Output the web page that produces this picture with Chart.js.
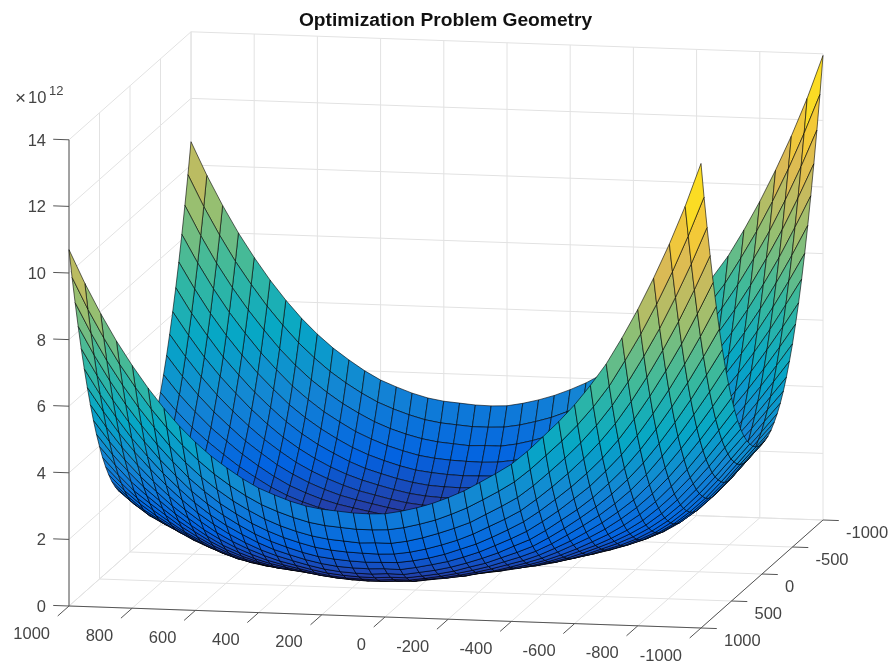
<!doctype html>
<html>
<head>
<meta charset="utf-8">
<title>Optimization Problem Geometry</title>
<script src="https://cdn.jsdelivr.net/npm/chart.js@4/dist/chart.umd.js"></script>
<style>
html, body { margin: 0; padding: 0; background: #fff; }
canvas { display: block; }
</style>
</head>
<body>
<canvas id="canvas" width="891" height="661"></canvas>
<script>
// tick labels
var xTicks = [1000, 800, 600, 400, 200, 0, -200, -400, -600, -800, -1000];
var yTicks = [1000, 500, 0, -500, -1000];
var zTicks = [0, 2, 4, 6, 8, 10, 12, 14];

// surface samples. zRows[i][j] is z (x 1e12) at gridX[i], |y| = gridY[j]
var gridX = [1000, 950, 900, 850, 800, 750, 700, 650, 600, 550, 500, 450, 400, 350, 300, 250, 200, 150, 100, 50, 0,
  -50, -100, -150, -200, -250, -300, -350, -400, -450, -500, -550, -600, -650, -700, -750, -800, -850, -900, -950, -1000];
var gridY = [0, 50, 100, 150, 200, 250, 300, 350, 400, 450, 500, 550, 600, 650, 700, 750, 800, 850, 900, 950, 1000];
var zRows = [
  [1.85,1.87,1.93,2.04,2.18,2.38,2.61,2.89,3.21,3.57,3.98,4.43,4.93,5.48,6.08,6.72,7.41,8.16,8.95,9.79,10.70],
  [1.48,1.50,1.56,1.65,1.79,1.96,2.18,2.43,2.73,3.06,3.44,3.85,4.32,4.83,5.39,5.97,6.62,7.32,8.06,8.85,9.71],
  [1.17,1.19,1.24,1.33,1.45,1.61,1.80,2.04,2.30,2.60,2.96,3.35,3.77,4.24,4.75,5.31,5.90,6.56,7.25,8.01,8.82],
  [0.95,0.97,1.01,1.09,1.20,1.34,1.51,1.71,1.96,2.24,2.55,2.89,3.28,3.71,4.19,4.69,5.26,5.87,6.53,7.24,8.01],
  [0.74,0.75,0.79,0.86,0.96,1.09,1.24,1.43,1.64,1.90,2.18,2.50,2.85,3.24,3.69,4.16,4.68,5.26,5.88,6.56,7.29],
  [0.54,0.55,0.59,0.66,0.74,0.84,0.99,1.16,1.34,1.57,1.83,2.12,2.44,2.81,3.22,3.66,4.15,4.69,5.29,5.93,6.63],
  [0.37,0.38,0.41,0.47,0.54,0.64,0.77,0.91,1.09,1.29,1.53,1.79,2.09,2.42,2.80,3.22,3.68,4.19,4.74,5.37,6.04],
  [0.22,0.23,0.25,0.31,0.37,0.46,0.57,0.70,0.85,1.04,1.25,1.49,1.76,2.08,2.42,2.81,3.24,3.72,4.26,4.86,5.51],
  [0.11,0.12,0.14,0.18,0.24,0.32,0.41,0.53,0.67,0.83,1.02,1.23,1.49,1.77,2.10,2.46,2.87,3.33,3.84,4.42,5.05],
  [0.05,0.06,0.07,0.11,0.16,0.23,0.31,0.40,0.52,0.67,0.84,1.03,1.26,1.52,1.82,2.16,2.55,2.98,3.48,4.03,4.65],
  [0.02,0.02,0.04,0.07,0.11,0.16,0.23,0.31,0.42,0.54,0.69,0.86,1.07,1.31,1.58,1.91,2.27,2.69,3.16,3.70,4.31],
  [0.02,0.02,0.03,0.06,0.09,0.13,0.19,0.26,0.34,0.44,0.57,0.73,0.91,1.13,1.38,1.68,2.02,2.42,2.89,3.41,4.00],
  [0.04,0.04,0.05,0.07,0.09,0.13,0.17,0.22,0.29,0.38,0.49,0.63,0.79,0.98,1.22,1.49,1.82,2.21,2.65,3.16,3.74],
  [0.06,0.06,0.06,0.07,0.09,0.11,0.15,0.19,0.25,0.32,0.42,0.54,0.69,0.87,1.09,1.35,1.66,2.03,2.46,2.97,3.55],
  [0.03,0.03,0.04,0.04,0.06,0.07,0.10,0.14,0.19,0.25,0.34,0.45,0.59,0.76,0.97,1.22,1.52,1.89,2.31,2.81,3.38],
  [0.01,0.01,0.01,0.02,0.03,0.04,0.06,0.09,0.14,0.20,0.28,0.38,0.51,0.67,0.87,1.12,1.41,1.77,2.19,2.68,3.25],
  [0.01,0.01,0.01,0.02,0.02,0.03,0.05,0.08,0.12,0.17,0.24,0.34,0.46,0.62,0.81,1.05,1.35,1.70,2.11,2.60,3.17],
  [0.02,0.02,0.02,0.02,0.03,0.03,0.05,0.07,0.11,0.16,0.22,0.32,0.44,0.59,0.78,1.02,1.31,1.66,2.07,2.56,3.13],
  [0.03,0.03,0.03,0.03,0.04,0.04,0.06,0.08,0.11,0.16,0.23,0.31,0.43,0.58,0.77,1.01,1.29,1.64,2.03,2.52,3.09],
  [0.06,0.06,0.06,0.06,0.06,0.07,0.08,0.10,0.14,0.18,0.25,0.34,0.46,0.61,0.80,1.03,1.30,1.63,2.05,2.52,3.08],
  [0.10,0.10,0.10,0.10,0.10,0.10,0.12,0.14,0.16,0.21,0.26,0.35,0.46,0.61,0.79,1.02,1.31,1.65,2.05,2.54,3.10],
  [0.15,0.15,0.15,0.15,0.16,0.17,0.17,0.20,0.22,0.27,0.33,0.42,0.53,0.68,0.87,1.10,1.38,1.72,2.13,2.62,3.19],
  [0.18,0.18,0.18,0.18,0.19,0.20,0.22,0.25,0.27,0.33,0.39,0.49,0.61,0.76,0.95,1.20,1.48,1.83,2.25,2.74,3.31],
  [0.22,0.22,0.22,0.23,0.23,0.25,0.27,0.29,0.34,0.39,0.47,0.58,0.71,0.86,1.06,1.31,1.61,1.97,2.40,2.88,3.46],
  [0.27,0.27,0.28,0.28,0.29,0.31,0.35,0.37,0.42,0.50,0.57,0.68,0.82,1.00,1.20,1.46,1.78,2.13,2.57,3.07,3.65],
  [0.29,0.29,0.30,0.32,0.32,0.35,0.38,0.44,0.49,0.57,0.66,0.80,0.95,1.13,1.36,1.63,1.95,2.33,2.76,3.28,3.87],
  [0.32,0.32,0.33,0.35,0.37,0.41,0.45,0.52,0.58,0.68,0.79,0.94,1.11,1.31,1.54,1.84,2.17,2.57,3.02,3.54,4.14],
  [0.37,0.37,0.38,0.40,0.44,0.48,0.53,0.60,0.69,0.80,0.93,1.08,1.27,1.49,1.76,2.06,2.41,2.81,3.28,3.81,4.42],
  [0.43,0.43,0.46,0.48,0.52,0.57,0.63,0.72,0.82,0.94,1.09,1.26,1.46,1.69,1.97,2.30,2.67,3.08,3.56,4.11,4.72],
  [0.52,0.53,0.55,0.58,0.63,0.69,0.76,0.86,0.98,1.12,1.29,1.48,1.70,1.96,2.26,2.61,3.00,3.44,3.93,4.50,5.12],
  [0.62,0.63,0.66,0.69,0.75,0.82,0.91,1.03,1.17,1.32,1.52,1.72,1.98,2.26,2.59,2.95,3.37,3.83,4.35,4.94,5.58],
  [0.74,0.75,0.78,0.82,0.89,0.98,1.09,1.22,1.36,1.55,1.76,2.00,2.28,2.59,2.92,3.33,3.76,4.25,4.79,5.39,6.05],
  [0.87,0.88,0.92,0.97,1.04,1.14,1.27,1.42,1.59,1.79,2.03,2.30,2.60,2.94,3.30,3.72,4.19,4.71,5.27,5.89,6.57],
  [1.04,1.05,1.09,1.15,1.24,1.34,1.49,1.66,1.85,2.08,2.35,2.64,2.97,3.34,3.74,4.19,4.67,5.22,5.81,6.45,7.17],
  [1.25,1.26,1.31,1.38,1.47,1.60,1.76,1.94,2.16,2.42,2.71,3.02,3.39,3.79,4.22,4.70,5.23,5.80,6.43,7.09,7.83],
  [1.53,1.54,1.60,1.67,1.78,1.92,2.09,2.30,2.55,2.82,3.14,3.49,3.88,4.31,4.79,5.30,5.87,6.48,7.15,7.87,8.63],
  [1.88,1.90,1.96,2.04,2.16,2.31,2.50,2.73,2.99,3.30,3.64,4.02,4.45,4.91,5.42,5.97,6.58,7.23,7.94,8.69,9.50],
  [2.32,2.33,2.39,2.47,2.61,2.77,2.98,3.23,3.50,3.82,4.20,4.61,5.06,5.56,6.11,6.70,7.35,8.05,8.79,9.60,10.46],
  [2.81,2.83,2.88,2.98,3.12,3.29,3.50,3.77,4.06,4.41,4.80,5.24,5.73,6.26,6.85,7.49,8.18,8.93,9.74,10.59,11.50],
  [3.36,3.38,3.44,3.53,3.68,3.84,4.08,4.35,4.66,5.03,5.44,5.91,6.43,7.02,7.65,8.34,9.10,9.90,10.76,11.68,12.65],
  [3.90,3.92,3.98,4.08,4.23,4.41,4.64,4.92,5.26,5.66,6.10,6.61,7.17,7.80,8.49,9.25,10.06,10.94,11.87,12.86,13.95]
];

// parula, low to high
var palette = [[53,42,135],[3,99,225],[20,133,212],[6,167,198],[56,185,158],[146,191,115],[217,186,86],[252,206,46],[249,251,14]];

var W = 891, H = 661, titleBlock = 31;

// orthographic view of the box, in units of the hidden linear scales
function project(x, y, z) {
  return {
    x: 446 - 0.316 * x - 0.061 * y,
    y: H - (563 - 0.011 * x + 0.054 * y - 33.3 * z)
  };
}

function nearness(x, y, z) {
  return -0.063 * x + 0.311 * y + 5.8 * z;
}

function colorFor(z) {
  var t = Math.max(0, Math.min(1, z / 14)) * (palette.length - 1);
  var i = Math.min(palette.length - 2, Math.floor(t));
  var f = t - i, a = palette[i], b = palette[i + 1];
  return 'rgb(' + Math.round(a[0] + (b[0] - a[0]) * f) + ',' + Math.round(a[1] + (b[1] - a[1]) * f) + ',' + Math.round(a[2] + (b[2] - a[2]) * f) + ')';
}

// the back half of the bowl mirrors the front half (both rims read the same)
var fullY = gridY.slice(1).reverse().map(function (v) { return -v; }).concat(gridY);
function zAt(i, k) {
  return zRows[i][gridY.indexOf(Math.abs(fullY[k]))];
}

var cells = [];
for (var i = 0; i < gridX.length - 1; i++) {
  for (var k = 0; k < fullY.length - 1; k++) {
    var corners = [[i, k], [i + 1, k], [i + 1, k + 1], [i, k + 1], [i, k]];
    var meanZ = (zAt(i, k) + zAt(i + 1, k) + zAt(i + 1, k + 1) + zAt(i, k + 1)) / 4;
    cells.push({
      depth: nearness((gridX[i] + gridX[i + 1]) / 2, (fullY[k] + fullY[k + 1]) / 2, meanZ),
      color: colorFor(meanZ),
      points: corners.map(function (c) { return project(gridX[c[0]], fullY[c[1]], zAt(c[0], c[1])); })
    });
  }
}
// chart.js paints dataset 0 last, so nearest cell goes first
cells.sort(function (a, b) { return b.depth - a.depth; });

var datasets = cells.map(function (c) {
  return {
    data: c.points, showLine: true, fill: 'shape', backgroundColor: c.color,
    borderColor: 'rgba(0,0,0,0.85)', borderWidth: 0.7, pointRadius: 0, tension: 0, clip: false
  };
});

function segment(p, q, color, width) {
  datasets.push({
    data: [project(p[0], p[1], p[2]), project(q[0], q[1], q[2])],
    showLine: true, fill: false, borderColor: color, borderWidth: width, pointRadius: 0, clip: false
  });
}

var axisColor = '#555555', gridColor = '#e2e2e2';

// axes and ticks sit above the grid but below the surface
segment([1000, 1000, 0], [1000, 1000, 14], axisColor, 1);
segment([1000, 1000, 0], [-1000, 1000, 0], axisColor, 1);
segment([-1000, 1000, 0], [-1000, -1000, 0], axisColor, 1);
zTicks.forEach(function (z) { segment([1000, 1000, z], [1050, 1000, z], axisColor, 1); });
xTicks.forEach(function (x) { segment([x, 1000, 0], [x, 1185, 0], axisColor, 1); });
yTicks.forEach(function (y) { segment([-1000, y, 0], [-1050, y, 0], axisColor, 1); });

// walls and floor
zTicks.forEach(function (z) {
  segment([1000, 1000, z], [1000, -1000, z], gridColor, 1);
  segment([1000, -1000, z], [-1000, -1000, z], gridColor, 1);
});
xTicks.forEach(function (x) {
  segment([x, 1000, 0], [x, -1000, 0], gridColor, 1);
  segment([x, -1000, 0], [x, -1000, 14], gridColor, 1);
});
yTicks.forEach(function (y) {
  segment([-1000, y, 0], [1000, y, 0], gridColor, 1);
  segment([1000, y, 0], [1000, y, 14], gridColor, 1);
});

var fontFamily = '"Liberation Sans", Arial, sans-serif';
var tickColor = '#444444';

var boxLabels = {
  id: 'boxLabels',
  afterDraw: function (chart) {
    var ctx = chart.ctx, sx = chart.scales.x, sy = chart.scales.y;
    function at(x, y, z) {
      var p = project(x, y, z);
      return { x: sx.getPixelForValue(p.x), y: sy.getPixelForValue(p.y) };
    }
    ctx.save();
    ctx.font = '16.5px ' + fontFamily;
    ctx.fillStyle = tickColor;
    ctx.textBaseline = 'middle';

    ctx.textAlign = 'right';
    zTicks.forEach(function (z) {
      var p = at(1000, 1000, z);
      ctx.fillText(String(z), p.x - 23, p.y + 1.5);
    });
    xTicks.forEach(function (x) {
      var p = at(x, 1000, 0);
      ctx.fillText(String(x), p.x - 19, p.y + 28);
    });
    ctx.textAlign = 'left';
    yTicks.forEach(function (y) {
      var p = at(-1000, y, 0);
      ctx.fillText(String(y), p.x + 23, p.y + 13.5);
    });

    // axis exponent
    var top = at(1000, 1000, 14);
    ctx.fillText('10', top.x - 41, top.y - 41);
    ctx.font = '13px ' + fontFamily;
    ctx.fillText('12', top.x - 20, top.y - 48);
    ctx.font = '19px ' + fontFamily;
    ctx.fillText('\u00d7', top.x - 54, top.y - 41);
    ctx.restore();
  }
};

new Chart(document.getElementById('canvas').getContext('2d'), {
  type: 'scatter',
  data: { datasets: datasets },
  plugins: [boxLabels],
  options: {
    responsive: false,
    animation: false,
    events: [],
    parsing: false,
    normalized: false,
    layout: { padding: 0 },
    scales: {
      x: { type: 'linear', display: false, min: 0, max: W },
      y: { type: 'linear', display: false, min: 0, max: H - titleBlock }
    },
    plugins: {
      legend: { display: false },
      tooltip: { enabled: false },
      title: {
        display: true,
        text: 'Optimization Problem Geometry',
        color: '#111111',
        font: { family: '"Liberation Sans", Arial, sans-serif', size: 19.2, weight: 'bold', lineHeight: 1 },
        padding: { top: 11.5, bottom: 0.3 }
      }
    }
  }
});
</script>
</body>
</html>
